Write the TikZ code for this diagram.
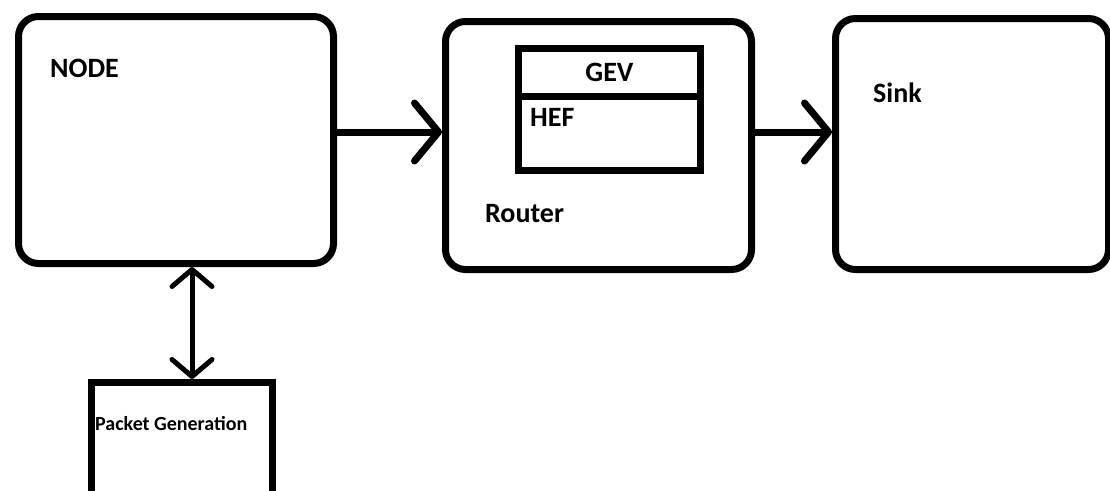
\documentclass[tikz,border=0pt]{standalone}
\usepackage{fontspec}
\setmainfont{Carlito}
\usetikzlibrary{shapes}
\usetikzlibrary{arrows.meta}
\tikzset{
	blocknode/.style = {
		rectangle,
		draw=black,
		line width=7pt,
		inner sep=0pt,
		anchor=north west
	},
	block_round/.style = {
		blocknode,
		rounded corners=20pt
	},
	block_cell/.style = {
		blocknode,
		minimum width=182pt,
		font=\fontsize{28}{30}\selectfont\bfseries
	},
	textnode/.style = {
		inner sep=0pt,
		anchor=base west,
		font=\fontsize{28}{30}\selectfont\bfseries
	},
	textnode_small/.style = {
		textnode,
		font=\fontsize{20}{22}\selectfont\bfseries
	},
	flow/.style = {
		line width=7pt,
		-{Straight Barb[length=24pt, width=58pt, round]}
	},
	link/.style = {
		line width=5pt,
		{Straight Barb[length=17pt, width=40pt, round]}-{Straight Barb[length=17pt, width=40pt, round]}
	},
}

\begin{document}
\begin{tikzpicture}[x=1pt, y=-1pt]
\useasboundingbox (0,0) rectangle (1110,490);

% main blocks
\node [block_round, minimum width=315pt, minimum height=247pt] (node_box) at (15,13) {};
\node [block_round, minimum width=306pt, minimum height=248pt] (router_box) at (442,18) {};
\node [block_round, minimum width=273pt, minimum height=251pt] (sink_box) at (832,15) {};
\node [blocknode, minimum width=181pt, minimum height=150pt] (pkt_box) at (88,379) {};

% table inside the router
\node [block_cell, minimum height=48pt] (gev_cell) at (515,45) {GEV};
\node [block_cell, minimum height=74pt] (hef_cell) at (515,93) {};

% labels
\node [textnode] (node_txt) at (50,77) {NODE};
\node [textnode] (hef_txt) at (530,126) {HEF};
\node [textnode] (router_txt) at (485,222) {Router};
\node [textnode] (sink_txt) at (873,102) {Sink};
\node [textnode_small] (pkt_txt) at (95,430) {Packet Generation};

% connectors
\draw [flow] (node_box.east |- 0,132) -- (router_box.west |- 0,132);
\draw [flow] (router_box.east |- 0,132) -- (sink_box.west |- 0,132);
\draw [link] (node_box.south -| 192,0) -- (pkt_box.north -| 192,0);
\end{tikzpicture}
\end{document}
